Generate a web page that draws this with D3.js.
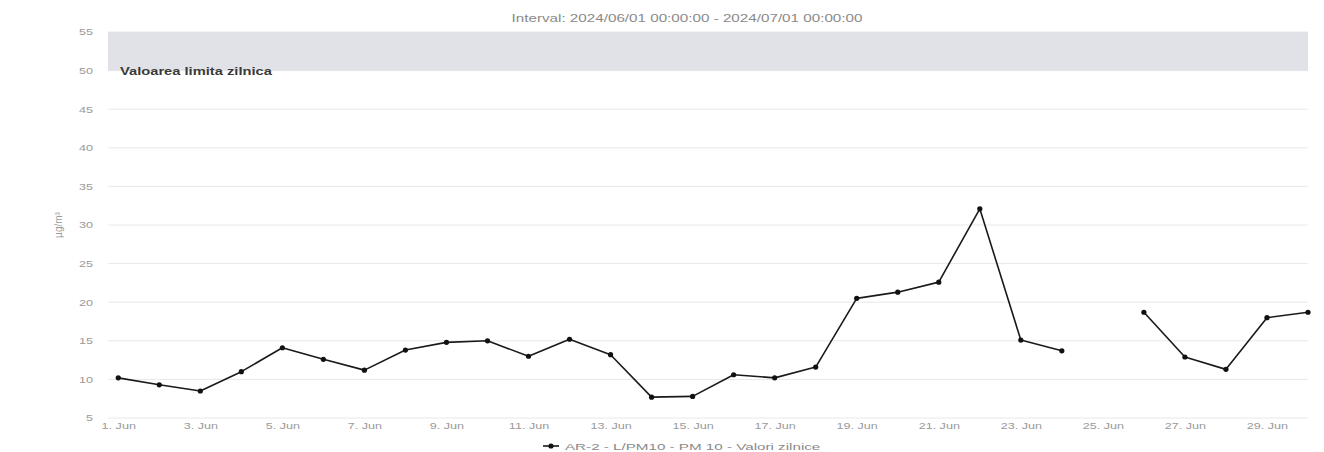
<!DOCTYPE html>
<html>
<head>
<meta charset="utf-8">
<script src="https://cdn.jsdelivr.net/npm/d3@7"></script>
<style>
  html, body { margin: 0; padding: 0; background: #ffffff; }
  svg { display: block; font-family: "Liberation Sans", Arial, sans-serif; }
</style>
</head>
<body>
<svg id="chart" width="1324" height="452"></svg>
<script>
// Daily PM10 averages, June 2024 (null = no valid measurement that day)
const days = d3.range(1, 31);
const pm10 = [
  10.2, 9.3, 8.5, 11.0, 14.1, 12.6, 11.2, 13.8, 14.8, 15.0,
  13.0, 15.2, 13.2, 7.7, 7.8, 10.6, 10.2, 11.6, 20.5, 21.3,
  22.6, 32.1, 15.1, 13.7, null, 18.7, 12.9, 11.3, 18.0, 18.7
];
const yTicks = [5, 10, 15, 20, 25, 30, 35, 40, 45, 50, 55];
const xTickDays = [1, 3, 5, 7, 9, 11, 13, 15, 17, 19, 21, 23, 25, 27, 29];
const limitBand = [50, 55];

const titleText = "Interval: 2024/06/01 00:00:00 - 2024/07/01 00:00:00";
const bandLabel = "Valoarea limita zilnica";
const yTitle = "µg/m³";
const seriesName = "AR-2 - L/PM10 - PM 10 - Valori zilnice";

// text in this export is rendered wide; stretch glyphs horizontally
const SX = 1.4;

const svg = d3.select("#chart");
const margin = { left: 108, right: 16 };
const W = 1324;

const day = d => new Date(2024, 5, d);
const x = d3.scaleTime()
  .domain([new Date(2024, 5, 1, -6), day(30)])
  .range([margin.left, W - margin.right]);
const y = d3.scaleLinear()
  .domain([5, 55])
  .range([418, 32]);

// grid lines
svg.append("g")
  .selectAll("line")
  .data(yTicks)
  .join("line")
  .attr("x1", margin.left).attr("x2", W - margin.right)
  .attr("y1", d => y(d)).attr("y2", d => y(d))
  .attr("stroke", "#e8e8e8").attr("stroke-width", 1);

// limit value band
svg.append("rect")
  .attr("x", margin.left)
  .attr("width", W - margin.right - margin.left)
  .attr("y", y(limitBand[1]))
  .attr("height", y(limitBand[0]) - y(limitBand[1]))
  .attr("fill", "#e0e2e7");

svg.append("text")
  .attr("transform", `translate(120,${y(limitBand[0]) + 4}) scale(${SX},1)`)
  .attr("font-size", 10.5).attr("font-weight", "bold")
  .attr("fill", "#3a3a3a")
  .text(bandLabel);

// y axis
const yAxis = d3.axisLeft(y).tickValues(yTicks).tickSize(0).tickPadding(0);
svg.append("g")
  .attr("transform", `translate(93,0)`)
  .call(yAxis)
  .call(g => g.select(".domain").remove())
  .call(g => g.selectAll("text")
    .attr("fill", "#9a9a9a").attr("font-size", 9)
    .attr("transform", `scale(${SX},1)`));

svg.append("text")
  .attr("transform", `translate(62,${y(30)}) rotate(-90)`)
  .attr("text-anchor", "middle")
  .attr("font-size", 10).attr("fill", "#9a9a9a")
  .text(yTitle);

// x axis
const xAxis = d3.axisBottom(x)
  .tickValues(xTickDays.map(day))
  .tickFormat(d => `${d.getDate()}. Jun`)
  .tickSize(0).tickPadding(0);
svg.append("g")
  .attr("transform", `translate(0,423)`)
  .call(xAxis)
  .call(g => g.select(".domain").remove())
  .call(g => g.selectAll("text")
    .attr("fill", "#9a9a9a").attr("font-size", 9)
    .attr("transform", `scale(${SX},1)`));

// title
svg.append("text")
  .attr("transform", `translate(687,22) scale(1.45,1)`)
  .attr("text-anchor", "middle")
  .attr("font-size", 10.5).attr("fill", "#8a8a8a")
  .text(titleText);

// series
const pts = days.map((d, i) => ({ d, v: pm10[i] }));
const line = d3.line()
  .defined(p => p.v != null)
  .x(p => x(day(p.d)))
  .y(p => y(p.v));

svg.append("path")
  .datum(pts)
  .attr("d", line)
  .attr("fill", "none")
  .attr("stroke", "#1a1a1a")
  .attr("stroke-width", 1.6)
  .attr("stroke-linejoin", "round");

svg.append("g")
  .selectAll("circle")
  .data(pts.filter(p => p.v != null))
  .join("circle")
  .attr("cx", p => x(day(p.d)))
  .attr("cy", p => y(p.v))
  .attr("r", 2.6)
  .attr("fill", "#111");

// legend
const lg = svg.append("g").attr("transform", "translate(543,446)");
lg.append("line").attr("x1", 0).attr("x2", 16).attr("y1", 0).attr("y2", 0)
  .attr("stroke", "#1a1a1a").attr("stroke-width", 1.6);
lg.append("circle").attr("cx", 8).attr("cy", 0).attr("r", 2.6).attr("fill", "#111");
lg.append("text").attr("transform", `translate(22,3.5) scale(1.6,1)`)
  .attr("font-size", 9.5).attr("fill", "#8a8a8a")
  .text(seriesName);
</script>
</body>
</html>
